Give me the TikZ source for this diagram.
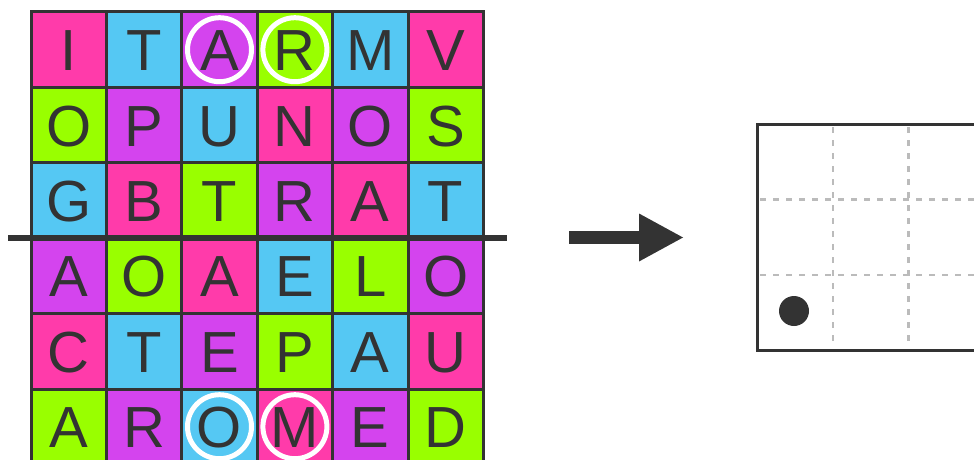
\documentclass[tikz,border=0pt]{standalone}
\usepackage{fontspec}
\setmainfont{Liberation Sans}
\usetikzlibrary{arrows.meta, positioning}
\definecolor{ink}{HTML}{333333}
\definecolor{pinkc}{HTML}{FF3BAA}
\definecolor{bluec}{HTML}{55C8F3}
\definecolor{purplec}{HTML}{D444EE}
\definecolor{greenc}{HTML}{99FF00}
\definecolor{dashc}{HTML}{BBBBBB}

\begin{document}
\begin{tikzpicture}[x=1pt, y=-1pt,
    cell/.style={draw=ink, line width=3pt, minimum size=75.4pt, inner sep=0pt,
      text height=42pt, text depth=0pt, text=ink, font=\fontsize{58}{60}\selectfont},
    ring/.style={draw=white, line width=5pt, circle, minimum size=64pt, inner sep=0pt},
    board/.style={draw=ink, line width=3pt, outer sep=0pt, minimum width=302pt, minimum height=226.5pt},
    guide/.style={dashc, line width=2.5pt, dash pattern=on 6pt off 7pt}]
      \clip (0,0) rectangle (974,460);
      % letter grid
      \foreach \row [count=\r] in {
          {I/pinkc,T/bluec,A/purplec,R/greenc,M/bluec,V/pinkc},
          {O/greenc,P/purplec,U/bluec,N/pinkc,O/purplec,S/greenc},
          {G/bluec,B/pinkc,T/greenc,R/purplec,A/pinkc,T/bluec},
          {A/purplec,O/greenc,A/pinkc,E/bluec,L/greenc,O/purplec},
          {C/pinkc,T/bluec,E/purplec,P/greenc,A/bluec,U/pinkc},
          {A/greenc,R/purplec,O/bluec,M/pinkc,E/purplec,D/greenc}}
        \foreach \ch/\col [count=\c] in \row
          \node[cell, fill=\col] (c-\r-\c) at ({68.7+(\c-1)*75.4},{49.7+(\r-1)*75.4}) {\ch};
      \foreach \n in {c-1-3, c-1-4, c-6-3, c-6-4}
        \node[ring] (ring-\n) at (\n) {};
      % cut line
      \coordinate (cut-l) at (8,237.5);
      \coordinate (cut-r) at (507,237.5);
      \draw[ink, line width=6pt] (cut-l) -- (cut-r);
      % arrow
      \coordinate (arrow-tail) at (569,237.5);
      \coordinate (arrow-head) at (683,237.5);
      \draw[ink, line width=13pt, -{Triangle[length=44pt, width=48pt, line width=0pt]}] (arrow-tail) -- (arrow-head);
      % board
      \node[board, anchor=north west] (board) at (757,124) {};
      \foreach \x in {833, 908.5}
        \draw[guide] (\x,127) -- (\x,348);
      \foreach \y in {199.5, 275}
        \draw[guide] (760,\y) -- (974,\y);
      \node[circle, fill=ink, minimum size=30pt, inner sep=0pt] (dot) at (794,311) {};
    \end{tikzpicture}
\end{document}
